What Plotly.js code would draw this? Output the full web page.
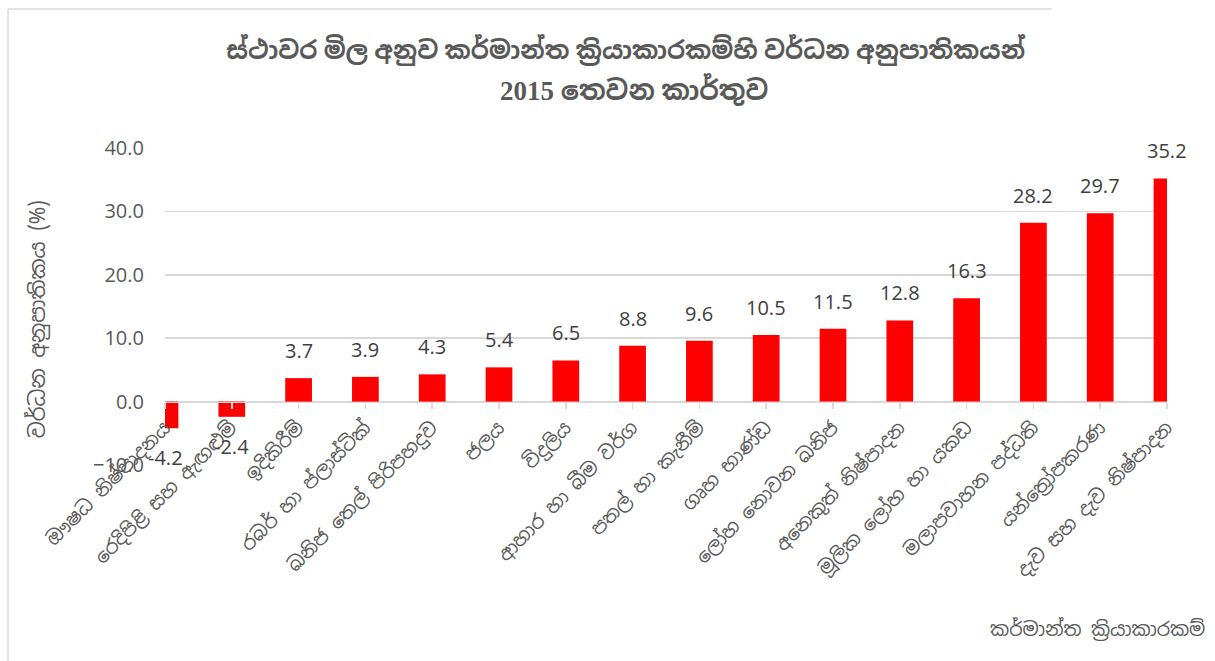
<!DOCTYPE html>
<html>
<head>
<meta charset="utf-8">
<script src="https://cdn.plot.ly/plotly-3.0.1.min.js"></script>
<style>html,body{margin:0;padding:0;background:#fff;}</style>
</head>
<body>
<div id="chart" style="width:1215px;height:661px;"></div>
<script>
const categories = [
  "ඖෂධ නිෂ්පාදනය",
  "රෙදිපිළි සහ ඇඟළුම්",
  "ඉදිකිරීම්",
  "රබර් හා ප්ලාස්ටික්",
  "ඛනිජ තෙල් පිරිපහදුව",
  "ජලය",
  "විදුලිය",
  "ආහාර හා බීම වර්ග",
  "පතල් හා කැනීම්",
  "ගෘහ භාණ්ඩ",
  "ලෝහ නොවන ඛනිජ",
  "අනෙකුත් නිෂ්පාදන",
  "මූලික ලෝහ හා යකඩ",
  "මලාපවාහන පද්ධති",
  "යන්ත්‍රෝපකරණ",
  "දැව සහ දැව නිෂ්පාදන"
];
const growthRates = [-4.2, -2.4, 3.7, 3.9, 4.3, 5.4, 6.5, 8.8, 9.6, 10.5, 11.5, 12.8, 16.3, 28.2, 29.7, 35.2];
const titleLine1 = "ස්ථාවර මිල අනුව කර්මාන්ත ක්‍රියාකාරකම්හි වර්ධන අනුපාතිකයන්";
const titleLine2 = "2015 තෙවන කාර්තුව";
const yTitle = "වර්ධන අනුපාතිකය (%)";
const xTitle = "කර්මාන්ත ක්‍රියාකාරකම්";

const sinFont = '"Noto Sans Sinhala", "Iskoola Pota", "Noto Serif Sinhala", "Open Sans", sans-serif';
const numFont = '"Open Sans", "Noto Sans Sinhala", sans-serif';
const titleFont = '"Liberation Serif", ' + sinFont;
const grey = '#595959';

const labelAnn = growthRates.map((v, i) => ({
  x: categories[i], y: v, xref: 'x', yref: 'y',
  text: v.toFixed(1), showarrow: false,
  xanchor: 'center', yanchor: v >= 0 ? 'bottom' : 'top',
  yshift: v >= 0 ? 12 : -14,
  font: {family: numFont, size: 20, color: '#404040'}
}));

const trace = {
  type: 'bar',
  x: categories,
  y: growthRates,
  marker: {color: '#ff0000'},
  width: 0.4,
  hoverinfo: 'x+y'
};

const layout = {
  width: 1215, height: 661,
  margin: {l: 165, r: 48, t: 148, b: 196},
  paper_bgcolor: '#ffffff', plot_bgcolor: '#ffffff',
  showlegend: false,
  title: {
    text: '<b>' + titleLine1 + '</b>',
    xref: 'container', x: 0.515, xanchor: 'center',
    yref: 'container', y: 1 - 50/661, yanchor: 'middle',
    font: {family: titleFont, size: 25, color: grey}
  },
  xaxis: {
    type: 'category',
    range: [0, 15],
    anchor: 'free', position: 0.2,
    showline: true, linecolor: '#d9d9d9', linewidth: 1.5,
    ticks: 'outside', ticklen: 6, tickcolor: '#d9d9d9', tickwidth: 1.5,
    tickangle: -45,
    tickfont: {family: sinFont, size: 19, color: grey},
    showgrid: false, zeroline: false, fixedrange: true
  },
  yaxis: {
    range: [-10, 40], dtick: 10, tick0: 0,
    tickformat: '.1f',
    showgrid: true, gridcolor: '#d9d9d9', gridwidth: 1.5,
    zeroline: false, showline: false,
    ticklabelstandoff: 20,
    tickfont: {family: numFont, size: 20, color: grey},
    fixedrange: true
  },
  annotations: labelAnn.concat([
    {xref: 'paper', yref: 'paper', x: 0.468, y: (465 - 89) / 317, text: '<b>' + titleLine2 + '</b>',
     showarrow: false, xanchor: 'center', yanchor: 'middle',
     font: {family: titleFont, size: 27, color: grey}},
    {xref: 'paper', yref: 'paper', x: -0.1277, y: 0.46, text: yTitle,
     textangle: -90, showarrow: false, xanchor: 'center', yanchor: 'middle',
     font: {family: sinFont, size: 21, color: grey}},
    {xref: 'paper', yref: 'paper', x: 1.04, y: -0.52, text: xTitle,
     showarrow: false, xanchor: 'right', yanchor: 'middle',
     font: {family: sinFont, size: 19, color: grey}}
  ]),
  shapes: [
    {type: 'line', xref: 'paper', yref: 'paper', x0: -0.1567, x1: -0.1567, y0: 1.4385, y1: -0.62,
     line: {color: '#d9d9d9', width: 1.5}},
    {type: 'line', xref: 'paper', yref: 'paper', x0: -0.1567, x1: 0.885, y0: 1.4385, y1: 1.4385,
     line: {color: '#d9d9d9', width: 1.5}}
  ]
};

Plotly.newPlot('chart', [trace], layout, {displayModeBar: false, staticPlot: true});
</script>
</body>
</html>
